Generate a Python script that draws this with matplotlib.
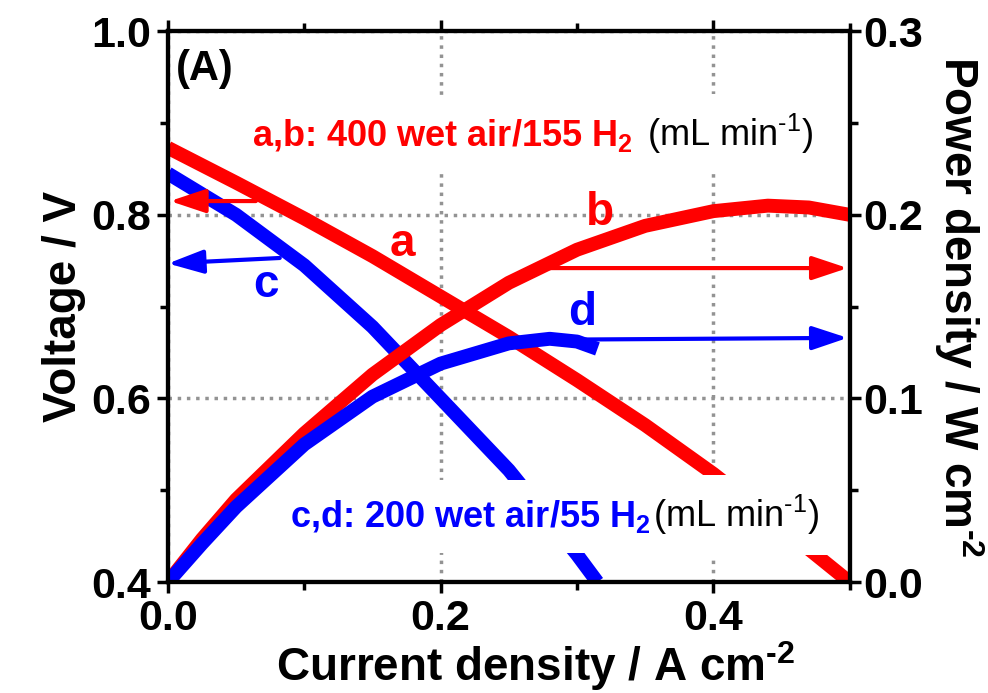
import matplotlib
matplotlib.use('Agg')
import matplotlib.pyplot as plt
from matplotlib.ticker import FormatStrFormatter

plt.rcParams['font.family'] = 'Liberation Sans'
plt.rcParams['font.weight'] = 'bold'
plt.rcParams['axes.labelweight'] = 'bold'
plt.rcParams['mathtext.fontset'] = 'custom'
plt.rcParams['mathtext.rm'] = 'Liberation Sans'
plt.rcParams['mathtext.default'] = 'regular'

# a: voltage, 400 wet air / 155 H2
j_a = [0.0, 0.05, 0.10, 0.15, 0.20, 0.25, 0.30, 0.35, 0.40, 0.45, 0.50]
v_a = [0.873, 0.835, 0.796, 0.755, 0.711, 0.667, 0.620, 0.571, 0.518, 0.460, 0.400]
# b: power density, 400 wet air / 155 H2
j_b = [0.0, 0.025, 0.05, 0.10, 0.15, 0.20, 0.25, 0.30, 0.35, 0.40, 0.44, 0.47, 0.50]
p_b = [0.0, 0.0235, 0.045, 0.081, 0.113, 0.140, 0.163, 0.181, 0.194, 0.202, 0.205, 0.204, 0.200]
# c: voltage, 200 wet air / 55 H2
j_c = [0.0, 0.05, 0.10, 0.15, 0.20, 0.25, 0.30, 0.315]
v_c = [0.845, 0.800, 0.745, 0.678, 0.600, 0.522, 0.430, 0.400]
# d: power density, 200 wet air / 55 H2
j_d = [0.0, 0.025, 0.05, 0.10, 0.15, 0.20, 0.25, 0.28, 0.30, 0.315]
p_d = [0.0, 0.021, 0.041, 0.075, 0.101, 0.119, 0.130, 0.1325, 0.131, 0.127]

red = '#ff0000'
blue = '#0000ff'
hy = '\u2010'  # short dash used in the unit exponents

fig = plt.figure(figsize=(9.88, 6.93), dpi=100)
ax = fig.add_axes([0.170, 0.160, 0.690, 0.795])
ax2 = ax.twinx()

ax.plot(j_a, v_a, color=red, lw=10, solid_capstyle='butt', solid_joinstyle='round')
ax.plot(j_c, v_c, color=blue, lw=10, solid_capstyle='butt', solid_joinstyle='round')
ax2.plot(j_b, p_b, color=red, lw=10, solid_capstyle='butt', solid_joinstyle='round')
ax2.plot(j_d, p_d, color=blue, lw=10, solid_capstyle='butt', solid_joinstyle='round')

ax.set_xlim(0, 0.5)
ax.set_ylim(0.4, 1.0)
ax2.set_ylim(0, 0.3)

ax.set_xticks([0.0, 0.2, 0.4])
ax.set_xticks([0.1, 0.3, 0.5], minor=True)
ax.set_yticks([0.4, 0.6, 0.8, 1.0])
ax.set_yticks([0.5, 0.7, 0.9], minor=True)
ax2.set_yticks([0.0, 0.1, 0.2, 0.3])
ax2.set_yticks([0.05, 0.15, 0.25], minor=True)
for a in (ax.xaxis, ax.yaxis, ax2.yaxis):
    a.set_major_formatter(FormatStrFormatter('%.1f'))

ax.grid(True, which='major', ls=':', color='#939393', lw=2.5)

for a in (ax, ax2):
    for s in a.spines.values():
        s.set_linewidth(3)
ax.tick_params(which='both', direction='out', top=True, width=2.5, labelsize=31, pad=4)
ax.tick_params(which='major', length=8)
ax.tick_params(which='minor', length=6)
ax2.tick_params(which='both', direction='out', width=2.5, labelsize=31, pad=2)
ax2.tick_params(which='major', length=8)
ax2.tick_params(which='minor', length=6)

ax.set_xlabel('Current density / A cm$^{' + hy + '2}$', fontsize=33, labelpad=0, x=0.54)
ax.set_ylabel('Voltage / V', fontsize=33, labelpad=4)
ax2.set_ylabel('Power density / W cm$^{' + hy + '2}$', fontsize=33, rotation=270,
               va='bottom', labelpad=6)

# arrows pointing to the axes
arr = '-|>,head_length=0.6,head_width=0.2'
ax.annotate('', xy=(0.0015, 0.815), xytext=(0.0645, 0.815),
            arrowprops=dict(arrowstyle=arr, color=red, lw=3, mutation_scale=36,
                            shrinkA=0, shrinkB=0))
ax.annotate('', xy=(0.0, 0.747), xytext=(0.082, 0.753),
            arrowprops=dict(arrowstyle=arr, color=blue, lw=3, mutation_scale=36,
                            shrinkA=0, shrinkB=0))
ax2.annotate('', xy=(0.4985, 0.171), xytext=(0.275, 0.171),
             arrowprops=dict(arrowstyle=arr, color=red, lw=3, mutation_scale=36,
                             shrinkA=0, shrinkB=0))
ax2.annotate('', xy=(0.4985, 0.133), xytext=(0.28, 0.132),
             arrowprops=dict(arrowstyle=arr, color=blue, lw=3, mutation_scale=36,
                             shrinkA=0, shrinkB=0))

ax.text(0.172, 0.755, 'a', color=red, fontsize=33, ha='center', va='baseline')
ax.text(0.317, 0.789, 'b', color=red, fontsize=33, ha='center', va='baseline')
ax.text(0.0718, 0.711, 'c', color=blue, fontsize=33, ha='center', va='baseline')
ax.text(0.3035, 0.680, 'd', color=blue, fontsize=33, ha='center', va='baseline')
ax.text(0.006, 0.947, '(A)', fontsize=30, ha='left', va='baseline')


def boxed(x, y, s, color, weight):
    # white patch behind the text first, the text itself above all patches
    ax.text(x, y, s, color='none', fontsize=26, fontweight=weight, va='baseline',
            zorder=3, bbox=dict(boxstyle='square,pad=0.5', fc='white', ec='none'))
    ax.text(x, y, s, color=color, fontsize=26, fontweight=weight, va='baseline',
            zorder=4)


boxed(0.0616, 0.875, 'a,b: 400 wet air/155 H$_{2}$', red, 'bold')
boxed(0.351, 0.875, '(mL min$^{' + hy + '1}$)', 'black', 'normal')
boxed(0.0894, 0.4597, 'c,d: 200 wet air/55 H$_{2}$', blue, 'bold')
boxed(0.3556, 0.4597, '(mL min$^{' + hy + '1}$)', 'black', 'normal')

fig.savefig('out.png', dpi=100)
